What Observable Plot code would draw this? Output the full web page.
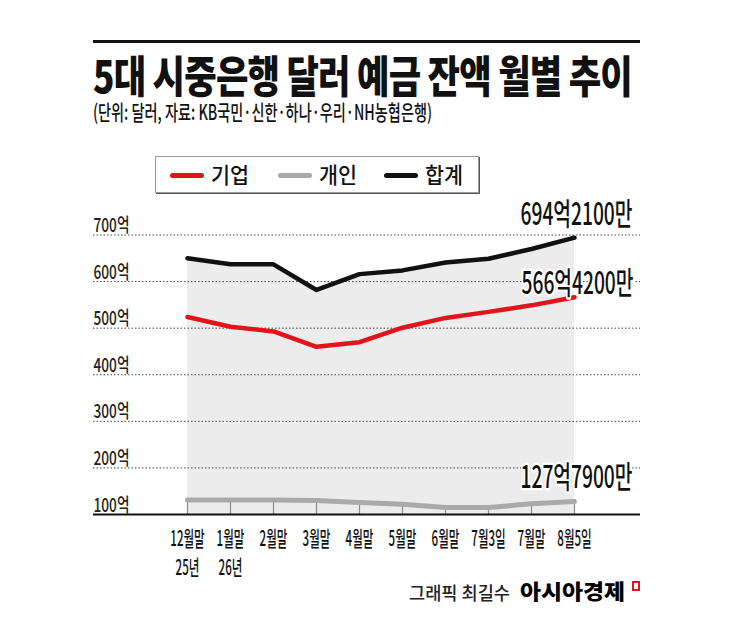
<!DOCTYPE html>
<html><head><meta charset="utf-8">
<script src="https://cdn.jsdelivr.net/npm/d3@7"></script>
<script src="https://cdn.jsdelivr.net/npm/@observablehq/plot@0.6"></script>
<style>
html,body{margin:0;padding:0;background:#fff;}
body{width:745px;height:636px;position:relative;overflow:hidden;font-family:"Noto Sans CJK KR","Noto Sans",sans-serif;color:#111;}
.abs{position:absolute;white-space:nowrap;transform-origin:0 0;line-height:1;}
#rule{left:93px;top:40px;width:547px;height:3px;background:#111;}
#title{left:93px;top:52px;font-size:44px;line-height:44px;font-weight:900;letter-spacing:-1px;color:#111;}
#sub{left:93px;top:101px;font-size:21px;line-height:21px;font-weight:500;color:#111;}
#legend{left:155px;top:156px;width:322px;height:35px;border:1px solid #999;box-shadow:1px 1px 0 #555;background:#fff;}
.item{position:absolute;top:0;height:35px;}
.sw{position:absolute;top:16px;left:0;width:34px;height:5px;border-radius:3px;}
.lab{position:absolute;top:5px;left:41px;font-size:22px;line-height:1;font-weight:500;white-space:nowrap;transform-origin:0 0;color:#111;}
#chart{left:0;top:190px;}
#credit1{left:409px;top:583px;font-size:18px;font-weight:500;color:#222;}
#credit2{left:520px;top:580px;font-size:21px;font-weight:900;color:#000;}
#icon{left:632px;top:581px;width:4px;height:6px;border:2.5px solid #e3131b;border-top-width:2px;}
</style>
</head>
<body>
<div id="rule" class="abs"></div>
<div id="title" class="abs">5대 시중은행 달러 예금 잔액 월별 추이</div>
<div id="sub" class="abs">(단위: 달러, 자료: KB국민·신한·하나·우리·NH농협은행)</div>
<div id="legend" class="abs"></div>
<div id="chart" class="abs"></div>
<div id="credit1" class="abs">그래픽 최길수</div>
<div id="credit2" class="abs">아시아경제</div>
<div id="icon" class="abs"></div>
<script>
// ---- data ----
const dates = ["12월말","1월말","2월말","3월말","4월말","5월말","6월말","7월3일","7월말","8월5일"];
const yearLabels = ["25년","26년","","","","","","","",""];
const total = [650, 637, 637, 582, 616, 624, 641, 649, 670, 694.21];
const corporate = [524, 503, 493, 460, 470, 501, 522, 535, 549, 566.42];
const individual = [131, 131, 131, 130, 126, 122, 115, 115, 123, 127.79];
const yTicks = [100, 200, 300, 400, 500, 600, 700];
const yTickLabels = ["100억","200억","300억","400억","500억","600억","700억"];
const endLabels = ["694억2100만","566억4200만","127억7900만"];
const seriesNames = ["기업","개인","합계"];
const seriesColors = ["#e3131b","#aaaaaa","#111111"];

// ---- html helpers ----
function fitW(el, w){
  const nat = el.getBoundingClientRect().width;
  if (nat > 0) el.style.transform = `scaleX(${w / nat})`;
}
fitW(document.getElementById("title"), 539);
fitW(document.getElementById("sub"), 339);
fitW(document.getElementById("credit1"), 101);
fitW(document.getElementById("credit2"), 105);

// legend
const legend = document.getElementById("legend");
const itemLeft = [14, 121.7, 228];
seriesNames.forEach((name, i) => {
  const it = document.createElement("div");
  it.className = "item";
  it.style.left = itemLeft[i] + "px";
  const sw = document.createElement("div");
  sw.className = "sw";
  sw.style.background = seriesColors[i];
  const lab = document.createElement("div");
  lab.className = "lab";
  lab.textContent = name;
  it.appendChild(sw); it.appendChild(lab);
  legend.appendChild(it);
  fitW(lab, 38);
});

// ---- chart ----
const rows = dates.map((d, i) => ({date: d, year: yearLabels[i], total: total[i], corporate: corporate[i], individual: individual[i]}));
const yRows = yTicks.map((v, i) => ({v, label: yTickLabels[i]}));
const last = dates.length - 1;
const endRows = [
  {date: dates[last], value: total[last], label: endLabels[0]},
  {date: dates[last], value: corporate[last], label: endLabels[1]},
  {date: dates[last], value: individual[last], label: endLabels[2]}
];

const svg = Plot.plot({
  width: 745,
  height: 400,
  marginTop: 44.5,
  marginBottom: 76,
  marginLeft: 183,
  marginRight: 168,
  style: {fontFamily: '"Noto Sans CJK KR", "Noto Sans", sans-serif', background: "transparent", color: "#111"},
  x: {type: "point", domain: dates, padding: 0, axis: null},
  y: {domain: [yTicks[0], yTicks[yTicks.length - 1]], axis: null},
  marks: [
    Plot.areaY(rows, {x: "date", y1: yTicks[0], y2: "total", fill: "#ececec"}),
    Plot.ruleY(yTicks.slice(1), {stroke: "#444", strokeWidth: 1, strokeDasharray: "1.5,2", insetLeft: -90, insetRight: -63}),
    Plot.ruleX(rows, {x: "date", y1: yTicks[0], y2: "individual", stroke: "#8a8a8a", strokeWidth: 1.2}),
    Plot.ruleY([yTicks[0]], {stroke: "#111", strokeWidth: 2, insetLeft: -90, insetRight: -63}),
    Plot.lineY(rows, {x: "date", y: "individual", stroke: seriesColors[1], strokeWidth: 5, strokeLinejoin: "round"}),
    Plot.lineY(rows, {x: "date", y: "corporate", stroke: seriesColors[0], strokeWidth: 4.5, strokeLinejoin: "round"}),
    Plot.lineY(rows, {x: "date", y: "total", stroke: seriesColors[2], strokeWidth: 4.5, strokeLinejoin: "round"}),
    Plot.text(yRows, {y: "v", text: "label", frameAnchor: "left", textAnchor: "start", dx: -90, dy: -9, fontSize: 19, fontWeight: 500, fill: "#222"}),
    Plot.text(rows, {x: "date", text: d => d.year ? d.date + "\n" + d.year : d.date, frameAnchor: "bottom", lineAnchor: "top", lineHeight: 1.42, dy: 10, fontSize: 21, fontWeight: 500, fill: "#111"}),
    Plot.text(endRows.slice(0, 1), {x: "date", y: "value", text: "label", dx: 2, dy: -23, fontSize: 31, fontWeight: 500, fill: "#111", stroke: "white", strokeWidth: 5}),
    Plot.text(endRows.slice(1, 2), {x: "date", y: "value", text: "label", dx: 3, dy: -13, fontSize: 31, fontWeight: 500, fill: "#111", stroke: "white", strokeWidth: 5}),
    Plot.text(endRows.slice(2, 3), {x: "date", y: "value", text: "label", dx: 2, dy: -23, fontSize: 31, fontWeight: 500, fill: "#111", stroke: "white", strokeWidth: 5})
  ]
});
document.getElementById("chart").appendChild(svg);

// condense chart text horizontally to match the narrow newspaper typeface
const squeeze = {"19": 0.72, "21": 0.55, "31": 0.62};
svg.querySelectorAll("g[font-size]").forEach(g => {
  const f = squeeze[g.getAttribute("font-size")];
  if (!f) return;
  g.querySelectorAll("text").forEach(t => {
    const tr = t.getAttribute("transform") || "";
    t.setAttribute("transform", `${tr} scale(${f},1)`);
  });
});
</script>
</body></html>
